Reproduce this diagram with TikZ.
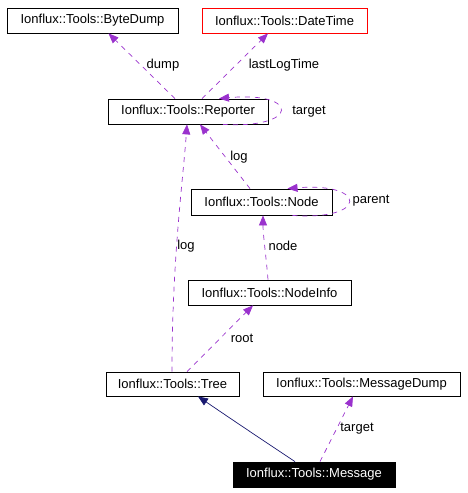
\documentclass[tikz,border=0pt]{standalone}
\usepackage{fontspec}
\setmainfont{Liberation Sans}
\usetikzlibrary{arrows.meta}
\definecolor{dorchid}{HTML}{9A32CD}
\definecolor{mnblue}{HTML}{191970}
\begin{document}
\begin{tikzpicture}[x=1pt,y=-1pt,
  cls/.style={draw=black,line width=0.8pt,inner sep=0pt,minimum height=25pt,font=\fontsize{13}{15}\selectfont},
  usage/.style={draw=dorchid,line width=0.7pt,dash pattern=on 5pt off 5pt,-{Triangle[length=10pt,width=8pt,fill=dorchid]}},
  inherit/.style={draw=mnblue,line width=0.7pt,-{Triangle[length=10pt,width=8pt,fill=mnblue]}},
  lbl/.style={font=\fontsize{13}{15}\selectfont,inner sep=1pt}]
\useasboundingbox (0,0) rectangle (467,493);
\node[cls,minimum width=171pt] (bd) at (92.5,20.5) {Ionflux::Tools::ByteDump};
\node[cls,draw=red,minimum width=165pt] (dt) at (284.5,20.5) {Ionflux::Tools::DateTime};
\node[cls,minimum width=160pt] (rep) at (188,111.5) {Ionflux::Tools::Reporter};
\node[cls,minimum width=141pt,minimum height=26pt] (nd) at (261.5,202) {Ionflux::Tools::Node};
\node[cls,minimum width=163pt] (ni) at (269.5,292.5) {Ionflux::Tools::NodeInfo};
\node[cls,minimum width=133pt,minimum height=24pt] (tr) at (172.5,384) {Ionflux::Tools::Tree};
\node[cls,minimum width=197pt,minimum height=24pt] (md) at (361.5,384) {Ionflux::Tools::MessageDump};
\node[cls,fill=black,text=white,minimum width=162pt] (msg) at (314,474.5) {Ionflux::Tools::Message};
% edges
\draw[usage] ([xshift=-13pt]rep.north) -- ([xshift=16pt]bd.south);
\node[lbl] (l1) at (163,65) {dump};
\draw[usage] ([xshift=14pt]rep.north) -- ([xshift=-16.5pt]dt.south);
\node[lbl] (l2) at (284,65) {lastLogTime};
\draw[usage] ([xshift=35pt]rep.south) .. controls (300,129) and (300,91) .. ([xshift=31pt]rep.north);
\node[lbl] (l3) at (309,111.5) {target};
\draw[usage] ([xshift=-11.5pt]nd.north) -- ([xshift=12pt]rep.south);
\node[lbl] (l4) at (239,157) {log};
\draw[usage] ([xshift=31pt]nd.south) .. controls (368,221) and (368,182) .. ([xshift=26pt]nd.north);
\node[lbl] (l5) at (371,201) {parent};
\draw[usage] ([xshift=-1.5pt]ni.north) .. controls (266,255) and (263,235) .. ([xshift=1.5pt]nd.south);
\node[lbl] (l6) at (283,246) {node};
\draw[usage] ([xshift=-0.5pt]tr.north) .. controls (172,260) and (183,180) .. ([xshift=-1pt]rep.south);
\node[lbl] (l7) at (186,246) {log};
\draw[usage] ([xshift=14.5pt]tr.north) -- ([xshift=-16.5pt]ni.south);
\node[lbl] (l8) at (242,338) {root};
\draw[inherit] ([xshift=-19pt]msg.north) .. controls (270,445) and (240,425) .. ([xshift=25.5pt]tr.south);
\draw[usage] ([xshift=6pt]msg.north) -- ([xshift=-8.5pt]md.south);
\node[lbl] (l9) at (357,429) {target};
\end{tikzpicture}
\end{document}
